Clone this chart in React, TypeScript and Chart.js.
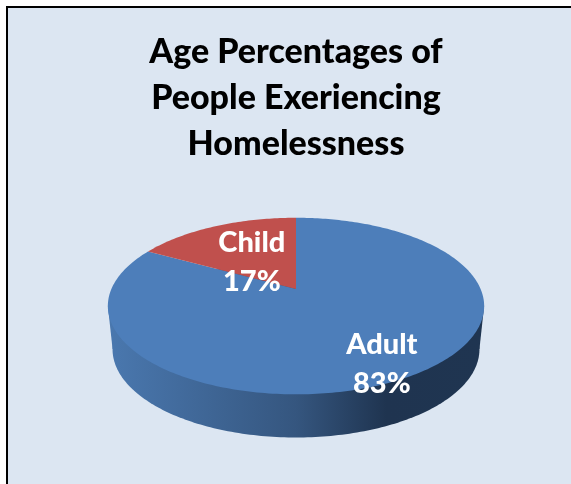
import React, { useEffect, useRef } from "react";
import { Chart, registerables } from "chart.js";

Chart.register(...registerables);

const titleLines = ["Age Percentages of", "People Exeriencing", "Homelessness"];
const categories = ["Adult", "Child"];
const percentages = [83, 17];
const sliceColors = ["#4D7EBA", "#C0504D"];
// Where each label's block sits, relative to the pie's apex, in pie radii.
const labelOffsets = [
  [1.01, 0.87],
  [-0.52, -0.33],
];

// Perspective of the tilted disc (pie radius = 1 on the vertical axis).
const widthFactor = 2.172;
const perspective = -0.193;
const depthFactor = 0.508;
const baseNarrowing = 0.975;

const project = (arc: any, a: number, r = 1) => {
  const u = Math.cos(a) * r;
  const v = Math.sin(a) * r;
  const d = 1 + perspective * v;
  return {
    x: arc.x + (arc.outerRadius * widthFactor * u) / d,
    y: arc.y + (arc.outerRadius * v) / d,
  };
};

const pie3d = {
  id: "pie3d",
  beforeDraw(chart: any) {
    const { ctx, width, height } = chart;
    ctx.save();
    ctx.fillStyle = "#ffffff";
    ctx.fillRect(0, 0, width, height);
    ctx.fillStyle = "#000000";
    ctx.fillRect(6, 6, width - 6, height - 6);
    ctx.fillStyle = "#DCE6F2";
    ctx.fillRect(8, 8, width - 8, height - 8);
    ctx.restore();
  },
  beforeDatasetDraw(chart: any) {
    const { ctx } = chart;
    const arcs = chart.getDatasetMeta(0).data;
    const first = arcs[0];
    const depth = first.outerRadius * depthFactor;
    const STEPS = 360;

    // side wall
    let minTop = { x: Infinity, y: 0 };
    let maxTop = { x: -Infinity, y: 0 };
    for (let i = 0; i <= STEPS; i++) {
      const p = project(first, (i / STEPS) * Math.PI * 2);
      if (p.x < minTop.x) minTop = p;
      if (p.x > maxTop.x) maxTop = p;
    }
    const base = (p: { x: number; y: number }) => ({
      x: first.x + (p.x - first.x) * baseNarrowing,
      y: p.y + depth,
    });
    const grad = ctx.createLinearGradient(minTop.x, 0, maxTop.x, 0);
    grad.addColorStop(0, "#4A78AF");
    grad.addColorStop(0.5, "#35567F");
    grad.addColorStop(0.74, "#1F3450");
    grad.addColorStop(1, "#1F3551");
    ctx.save();
    ctx.fillStyle = grad;
    ctx.beginPath();
    for (let i = 0; i <= STEPS; i++) {
      const p = base(project(first, (i / STEPS) * Math.PI * 2));
      if (i === 0) ctx.moveTo(p.x, p.y);
      else ctx.lineTo(p.x, p.y);
    }
    ctx.closePath();
    ctx.fill();
    const bl = base(minTop);
    const br = base(maxTop);
    ctx.beginPath();
    ctx.moveTo(minTop.x, minTop.y);
    ctx.lineTo(maxTop.x, maxTop.y);
    ctx.lineTo(br.x, br.y);
    ctx.lineTo(bl.x, bl.y);
    ctx.closePath();
    ctx.fill();

    // top faces, from the angles the doughnut controller computed
    arcs.forEach((arc: any, idx: number) => {
      ctx.fillStyle = sliceColors[idx];
      ctx.beginPath();
      ctx.moveTo(arc.x, arc.y);
      const n = Math.max(2, Math.ceil(((arc.endAngle - arc.startAngle) / (Math.PI * 2)) * STEPS));
      for (let i = 0; i <= n; i++) {
        const a = arc.startAngle + ((arc.endAngle - arc.startAngle) * i) / n;
        const p = project(arc, a);
        ctx.lineTo(p.x, p.y);
      }
      ctx.closePath();
      ctx.fill();
    });
    ctx.restore();
    return false;
  },
  afterDatasetsDraw(chart: any) {
    const { ctx } = chart;
    const arcs = chart.getDatasetMeta(0).data;
    ctx.save();
    ctx.fillStyle = "#ffffff";
    ctx.font = "900 29px Lato";
    ctx.textAlign = "center";
    ctx.textBaseline = "alphabetic";
    arcs.forEach((arc: any, idx: number) => {
      const cx = arc.x + labelOffsets[idx][0] * arc.outerRadius;
      const cy = arc.y + labelOffsets[idx][1] * arc.outerRadius;
      ctx.fillText(categories[idx], cx, cy - 9);
      ctx.fillText(percentages[idx] + "%", cx, cy + 30);
    });
    ctx.restore();
  },
};

export default function App() {
  const ref = useRef<HTMLCanvasElement>(null);
  useEffect(() => {
    const chart = new Chart(ref.current!, {
      type: "pie",
      data: {
        labels: categories,
        datasets: [{ data: percentages, backgroundColor: sliceColors, borderWidth: 0 }],
      },
      options: {
        responsive: false,
        animation: false,
        layout: { padding: { left: 21, right: 0, top: 0, bottom: 110 } },
        plugins: {
          legend: { display: false },
          tooltip: { enabled: false },
          title: {
            display: true,
            text: titleLines,
            color: "#000000",
            font: { family: "Lato", size: 34, weight: "900", lineHeight: 46 / 34 },
            padding: { top: 29, bottom: 37 },
          },
        },
      },
      plugins: [pie3d],
    });
    return () => chart.destroy();
  }, []);
  return (
    <div style={{ position: "absolute", left: 0, top: 0 }}>
      <canvas ref={ref} width={571} height={484} style={{ display: "block" }} />
    </div>
  );
}
